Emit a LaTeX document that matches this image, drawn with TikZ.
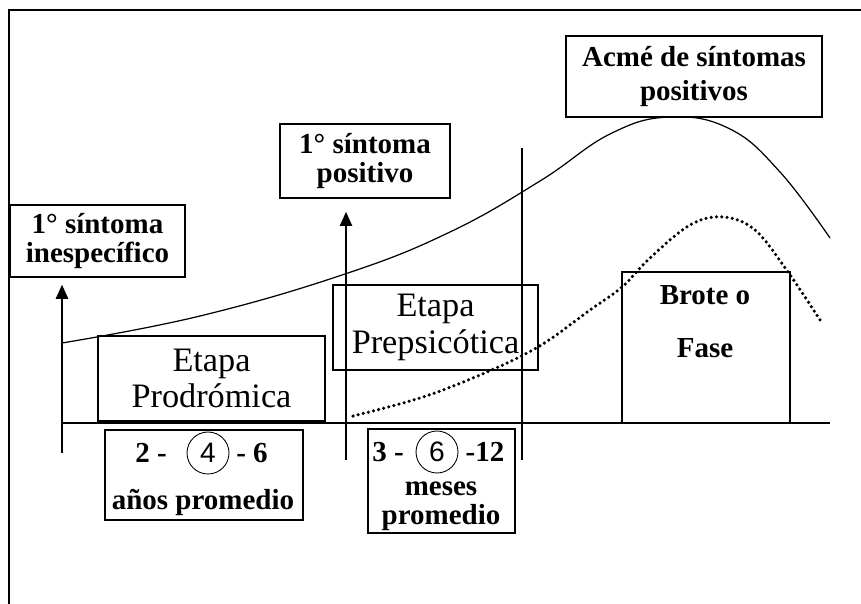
\documentclass[tikz,border=0pt]{standalone}
\usepackage{fontspec}
\setmainfont{Liberation Serif}
\setsansfont{Liberation Sans}
\usetikzlibrary{arrows.meta}
\begin{document}
\begin{tikzpicture}[x=0.02cm,y=-0.02cm]

      \tikzset{stage/.style={draw, line width=0.8pt, align=center, inner sep=2pt},
               boldtext/.style={font=\bfseries\fontsize{16.5}{16}\selectfont},
               stagetext/.style={font=\fontsize{19.5}{21}\selectfont},
               numcircle/.style={draw, circle, line width=0.5pt, minimum size=0.84cm, inner sep=0pt, font=\sffamily\fontsize{16}{16}\selectfont},
               arrow/.style={-{Triangle[width=7pt,length=8pt]}, line width=0.8pt}}
      \useasboundingbox (0,0) rectangle (861,604);
%% Frame
      \draw[line width=0.9pt] (861,10) -- (9,10) -- (9,604);
%% Labels above
      \node[stage, boldtext, minimum width=3.5cm, minimum height=1.44cm] (inesp) at (97.5,241) {1° síntoma\\inespecífico};
      \node[stage, boldtext, minimum width=3.4cm, minimum height=1.48cm] (posit) at (365,161) {1° síntoma\\positivo};
      \node[stage, boldtext, font=\bfseries\fontsize{16.5}{19}\selectfont, minimum width=5.12cm, minimum height=1.62cm] (acme) at (694,76.5) {Acmé de síntomas\\positivos};
%% Stages
      \node[stage, stagetext, minimum width=4.54cm, minimum height=1.7cm] (prodro) at (211.5,378.5) {Etapa\\Prodrómica};
      \node[stage, stagetext, minimum width=4.1cm, minimum height=1.7cm] (prepsi) at (435.5,327.5) {Etapa\\Prepsicótica};
      \node[stage, minimum width=3.36cm, minimum height=3.02cm] (brote) at (706,347.5) {};
      \node[boldtext, align=center, font=\bfseries\fontsize{16.5}{30}\selectfont] (brotetxt) at (705,322) {Brote o\\Fase};
%% Durations
      \node[stage, minimum width=3.96cm, minimum height=1.8cm] (rangeA) at (204,475) {};
      \node[boldtext] (lowA) at (151,453) {2 -};
      \node[numcircle] (meanA) at (208,453) {4};
      \node[boldtext] (highA) at (252,453) {- 6};
      \node[boldtext] (unitA) at (203,502) {años promedio};
      \node[stage, minimum width=2.94cm, minimum height=2.08cm] (rangeB) at (441.5,481) {};
      \node[boldtext] (lowB) at (388,452) {3 -};
      \node[numcircle] (meanB) at (437,452) {6};
      \node[boldtext] (highB) at (485,452) {-12};
      \node[boldtext, align=center, font=\bfseries\fontsize{16.5}{16.5}\selectfont] (unitB) at (441,506) {meses\\promedio};
%% Axis and markers
      \coordinate (base0) at (62,423);
      \coordinate (base1) at (830,423);
      \coordinate (mark1) at (62,453);
      \coordinate (mark2) at (346,460);
      \coordinate (mark3) at (522,460);
      \coordinate (mark3top) at (522,148);
      \draw[line width=0.8pt] (base0) -- (base1);
      \draw[arrow, shorten >=4pt] (mark1) -- (mark1 |- inesp.south);
      \draw[arrow, shorten >=7.5pt] (mark2) -- (mark2 |- posit.south);
      \draw[line width=0.8pt] (mark3) -- (mark3top);
%% Curves
      \draw[line width=0.7pt] plot[smooth, tension=0.7] coordinates {(62,343) (200,316) (345,274) (450,232) (540,181) (610,134) (670,117) (730,129) (780,172) (830,238)};
      \draw[line width=2pt, line cap=round, dash pattern=on 0pt off 3pt] plot[smooth, tension=0.6] coordinates {(353,416) (420,398) (480,375) (538,347) (590,310) (622,287) (650,258) (690,225) (723,217) (755,230) (788,272) (822,323)};

\end{tikzpicture}
\end{document}
